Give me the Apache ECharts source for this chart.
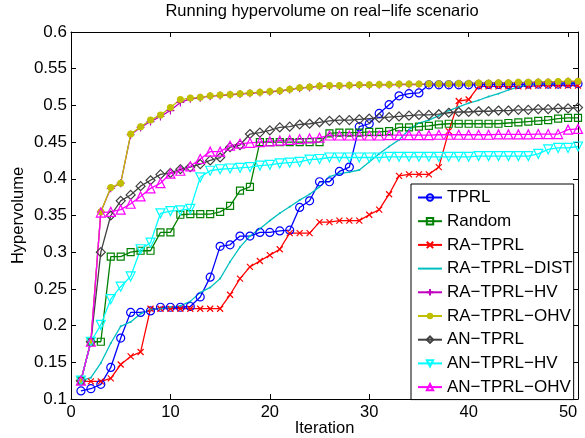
<!DOCTYPE html>
<html>
<head>
<meta charset="utf-8">
<script src="https://cdn.jsdelivr.net/npm/echarts@6/dist/echarts.min.js"></script>
<style>
  html, body { margin: 0; padding: 0; background: #fff; }
  #chart { width: 585px; height: 438px; }
</style>
</head>
<body>
<div id="chart"></div>
<script>
// iteration numbers (x)
const iterations = [1,2,3,4,5,6,7,8,9,10,11,12,13,14,15,16,17,18,19,20,21,22,23,24,25,26,27,28,29,30,31,32,33,34,35,36,37,38,39,40,41,42,43,44,45,46,47,48,49,50,51]

// hypervolume values
const tprl = [0.111,0.114,0.120,0.143,0.183,0.218,0.218,0.220,0.225,0.225,0.225,0.226,0.239,0.266,0.308,0.310,0.322,0.322,0.327,0.327,0.329,0.330,0.361,0.370,0.396,0.396,0.410,0.416,0.471,0.475,0.489,0.501,0.513,0.516,0.517,0.528,0.528,0.528,0.528,0.528,0.528,0.5285,0.5285,0.5285,0.5285,0.529,0.529,0.529,0.529,0.5295,0.5295]
const random = [0.125,0.178,0.178,0.294,0.294,0.300,0.302,0.302,0.327,0.327,0.351,0.352,0.352,0.352,0.355,0.363,0.384,0.389,0.450,0.450,0.450,0.450,0.450,0.450,0.450,0.462,0.463,0.463,0.463,0.464,0.464,0.465,0.470,0.470,0.471,0.472,0.474,0.475,0.475,0.475,0.475,0.475,0.475,0.476,0.477,0.478,0.479,0.480,0.482,0.483,0.483]
const raTprl = [0.124,0.124,0.124,0.128,0.147,0.158,0.164,0.223,0.223,0.223,0.223,0.223,0.223,0.223,0.223,0.242,0.264,0.280,0.288,0.296,0.304,0.326,0.326,0.326,0.341,0.341,0.343,0.343,0.343,0.351,0.358,0.379,0.404,0.406,0.406,0.406,0.416,0.465,0.506,0.508,0.526,0.526,0.526,0.526,0.526,0.526,0.527,0.527,0.527,0.527,0.527]
const raTprlDist = [0.125,0.129,0.149,0.176,0.199,0.205,0.216,0.222,0.223,0.225,0.227,0.233,0.245,0.252,0.264,0.287,0.307,0.322,0.332,0.343,0.353,0.362,0.371,0.379,0.389,0.403,0.407,0.409,0.412,0.423,0.434,0.444,0.453,0.467,0.476,0.480,0.486,0.493,0.498,0.503,0.507,0.512,0.516,0.521,0.525,0.528,0.529,0.530,0.530,0.531,0.531]
const raTprlHv = [0.125,0.178,0.355,0.387,0.394,0.460,0.470,0.478,0.485,0.493,0.504,0.509,0.5105,0.5125,0.5135,0.5145,0.5155,0.5165,0.5175,0.5185,0.5195,0.5215,0.5235,0.5245,0.526,0.5265,0.5265,0.527,0.5275,0.5275,0.528,0.528,0.5285,0.5285,0.5285,0.529,0.529,0.529,0.5295,0.5295,0.530,0.530,0.5305,0.5305,0.531,0.531,0.5315,0.5315,0.532,0.5325,0.5325]
const raTprlOhv = [0.125,0.178,0.355,0.388,0.394,0.461,0.471,0.480,0.487,0.497,0.508,0.510,0.511,0.513,0.514,0.515,0.516,0.517,0.518,0.519,0.520,0.522,0.524,0.525,0.5265,0.527,0.527,0.5275,0.528,0.528,0.5285,0.5285,0.529,0.529,0.529,0.5295,0.5295,0.5295,0.530,0.530,0.5305,0.5305,0.531,0.531,0.5315,0.5315,0.532,0.532,0.5325,0.533,0.533]
const anTprl = [0.125,0.178,0.300,0.350,0.370,0.378,0.390,0.398,0.406,0.408,0.413,0.416,0.420,0.425,0.429,0.443,0.446,0.461,0.463,0.466,0.470,0.471,0.474,0.475,0.477,0.479,0.480,0.480,0.481,0.482,0.483,0.484,0.485,0.486,0.487,0.487,0.488,0.490,0.491,0.491,0.492,0.492,0.493,0.493,0.494,0.494,0.495,0.495,0.496,0.496,0.497]
const anTprlHv = [0.125,0.178,0.201,0.236,0.253,0.267,0.304,0.313,0.353,0.356,0.357,0.359,0.402,0.411,0.413,0.414,0.415,0.416,0.418,0.419,0.421,0.422,0.423,0.426,0.427,0.429,0.429,0.429,0.429,0.429,0.429,0.430,0.430,0.430,0.430,0.430,0.430,0.430,0.430,0.430,0.431,0.431,0.431,0.431,0.431,0.431,0.434,0.440,0.442,0.442,0.444]
const anTprlOhv = [0.125,0.178,0.354,0.355,0.358,0.366,0.376,0.387,0.394,0.407,0.411,0.417,0.427,0.437,0.437,0.445,0.448,0.449,0.450,0.451,0.452,0.453,0.454,0.455,0.456,0.459,0.459,0.459,0.459,0.459,0.459,0.4595,0.4595,0.4595,0.4595,0.4595,0.460,0.460,0.460,0.460,0.460,0.460,0.4605,0.4605,0.4605,0.4605,0.461,0.461,0.461,0.467,0.468]

const xTicks = [0, 10, 20, 30, 40, 50]

const FONT = 'Liberation Sans'
const CLEAR = 'rgba(0,0,0,0)'
const CROSS = 'path://M0,0L10,10M10,0L0,10'
const PLUS = 'path://M5,0L5,10M0,5L10,5'

const pairs = vals => iterations.map((it, i) => [it, vals[i]])

// name, values, colour, symbol, size, filled, rotate
const defs = [
  ['TPRL', tprl, '#0000ff', 'circle', 8, false, 0],
  ['Random', random, '#008000', 'rect', 7, false, 0],
  ['RA\u2212TPRL', raTprl, '#ff0000', CROSS, 6, false, 0],
  ['RA\u2212TPRL\u2212DIST', raTprlDist, '#00bfbf', 'circle', 2, true, 0],
  ['RA\u2212TPRL\u2212HV', raTprlHv, '#bf00bf', PLUS, 8, false, 0],
  ['RA\u2212TPRL\u2212OHV', raTprlOhv, '#bfbf00', 'circle', 7, true, 0],
  ['AN\u2212TPRL', anTprl, '#404040', 'diamond', 9, false, 0],
  ['AN\u2212TPRL\u2212HV', anTprlHv, '#00ffff', 'triangle', 9, false, 180],
  ['AN\u2212TPRL\u2212OHV', anTprlOhv, '#ff00ff', 'triangle', 9, false, 0]
]

const series = defs.map(([name, vals, color, symbol, size, filled, rot]) => ({
  name,
  type: 'line',
  data: pairs(vals),
  symbol,
  symbolSize: size,
  symbolRotate: rot,
  lineStyle: { color, width: 1.3 },
  itemStyle: { color: filled ? color : CLEAR, borderColor: color, borderWidth: filled ? 0 : 1.2 },
  emphasis: { disabled: true },
  z: 2
}))

// legend entries; the DIST one has only a tiny point in the reference
const legendItems = defs.map(d => d[0] === 'RA\u2212TPRL\u2212DIST'
  ? { name: d[0], itemStyle: { color: CLEAR, borderWidth: 0 } }
  : { name: d[0] })

const axisBase = {
  axisLine: { show: true, onZero: false, lineStyle: { color: '#000', width: 1 } },
  axisTick: { show: true, inside: true, length: 5, lineStyle: { color: '#000' } },
  splitLine: { show: false }
}

const chart = echarts.init(document.getElementById('chart'))
chart.setOption({
  animation: false,
  backgroundColor: '#fff',
  textStyle: { fontFamily: FONT, color: '#000' },
  title: {
    text: 'Running hypervolume on real\u2212life scenario',
    left: 322,
    textAlign: 'center',
    top: 3,
    padding: 0,
    textStyle: { fontFamily: FONT, fontSize: 16.5, fontWeight: 'normal', color: '#000' }
  },
  grid: { left: 71, right: 7, top: 32, bottom: 39, outerBoundsMode: 'none', containLabel: false },
  xAxis: [
    {
      ...axisBase,
      type: 'value', min: 0, max: 51, interval: 10, position: 'bottom',
      name: 'Iteration', nameLocation: 'middle', nameGap: 21, nameMoveOverlap: false,
      nameTextStyle: { fontFamily: FONT, fontSize: 16.5, color: '#000' },
      axisLabel: {
        fontFamily: FONT, fontSize: 16.5, color: '#000', margin: 5, showMaxLabel: false,
        formatter: v => (xTicks.includes(v) ? String(v) : '')
      }
    },
    { ...axisBase, type: 'value', min: 0, max: 51, interval: 10, position: 'top', axisLabel: { show: false } }
  ],
  yAxis: [
    {
      ...axisBase,
      type: 'value', min: 0.1, max: 0.6, interval: 0.05, position: 'left',
      name: 'Hypervolume', nameLocation: 'middle', nameGap: 44, nameMoveOverlap: false,
      nameTextStyle: { fontFamily: FONT, fontSize: 16.5, color: '#000' },
      axisLabel: { fontFamily: FONT, fontSize: 17, color: '#000', margin: 4, formatter: v => String(+v.toFixed(2)) }
    },
    { ...axisBase, type: 'value', min: 0.1, max: 0.6, interval: 0.05, position: 'right', axisLabel: { show: false } }
  ],
  legend: {
    orient: 'vertical',
    left: 411,
    top: 184,
    padding: [5, 1, 4, 6],
    itemGap: 6.7,
    itemWidth: 24,
    itemHeight: 8,
    backgroundColor: '#fff',
    borderColor: '#000',
    borderWidth: 1,
    borderRadius: 0,
    selectedMode: false,
    textStyle: { fontFamily: FONT, fontSize: 17, color: '#000', lineHeight: 16 },
    data: legendItems
  },
  series
})
</script>
</body>
</html>
